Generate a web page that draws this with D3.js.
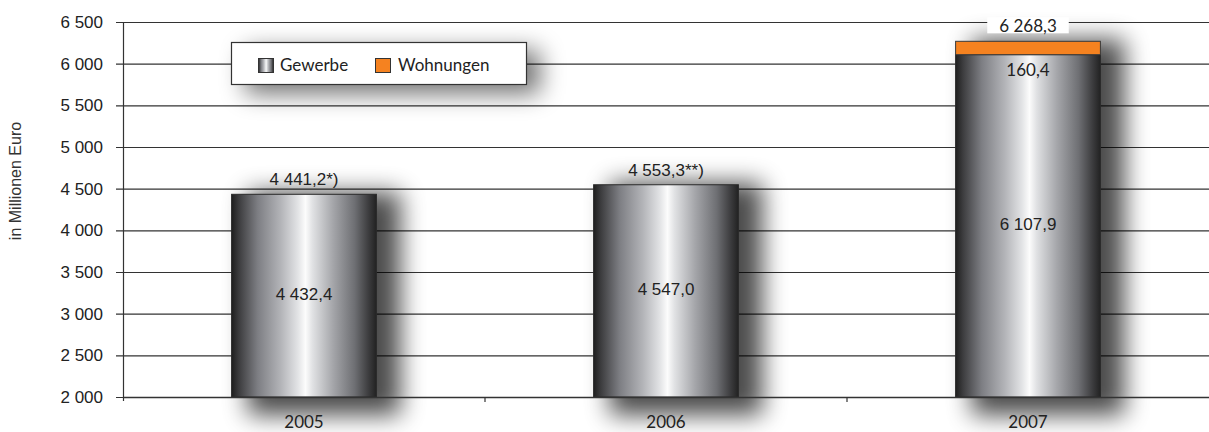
<!DOCTYPE html>
<html>
<head>
<meta charset="utf-8">
<script src="https://cdn.jsdelivr.net/npm/d3@7"></script>
<style>
  body { margin: 0; background: #fff; }
  svg { display: block; }
</style>
</head>
<body>
<svg id="chart" width="1209" height="432"></svg>
<script>
// values
var years = ["2005", "2006", "2007"]
var gewerbe = [4432.4, 4547.0, 6107.9]
var wohnungen = [0, 0, 160.4]
var totals = [4441.2, 4553.3, 6268.3]
var footnotes = ["*)", "**)", ""]
var yTicks = [2000, 2500, 3000, 3500, 4000, 4500, 5000, 5500, 6000, 6500]
var seriesNames = ["Gewerbe", "Wohnungen"]

var de = d3.formatLocale({decimal: ",", thousands: " ", grouping: [3], currency: ["", " €"]})
var fmtTick = de.format(",d")
var fmtVal = de.format(",.1f")

var plotLeft = 123, plotRight = 1209, plotTop = 22, plotBottom = 397

var svg = d3.select("#chart")
var defs = svg.append("defs")

var grad = defs.append("linearGradient").attr("id", "metal").attr("x1", "0").attr("x2", "1").attr("y1", "0").attr("y2", "0")
var stops = [[0, "#1e1e1e"], [0.05, "#3c3c3e"], [0.18, "#7d7e83"], [0.34, "#b3b4b8"], [0.46, "#e3e4e6"], [0.51, "#fcfcfc"], [0.56, "#e0e1e3"], [0.7, "#a5a6aa"], [0.85, "#6e6f73"], [0.95, "#3a3a3c"], [1, "#222"]]
grad.selectAll("stop").data(stops).enter().append("stop")
  .attr("offset", function(d) { return d[0] }).attr("stop-color", function(d) { return d[1] })

var blur = defs.append("filter").attr("id", "shadow").attr("x", "-60%").attr("y", "-60%").attr("width", "220%").attr("height", "220%")
blur.append("feGaussianBlur").attr("stdDeviation", 12)

var x = d3.scaleBand().domain(years).range([plotLeft, plotRight]).paddingInner(0.6).paddingOuter(0.3)
var y = d3.scaleLinear().domain([2000, 6500]).range([plotBottom, plotTop])

// gridlines
svg.append("g").selectAll("line").data(yTicks).enter().append("line")
  .attr("x1", plotLeft - 7).attr("x2", plotRight).attr("y1", function(d) { return y(d) + 0.5 }).attr("y2", function(d) { return y(d) + 0.5 })
  .attr("stroke", "#333").attr("stroke-width", 1.1)

// y tick labels
svg.append("g").selectAll("text").data(yTicks).enter().append("text")
  .text(function(d) { return fmtTick(d) })
  .attr("x", plotLeft - 20).attr("y", function(d) { return y(d) + 6 })
  .attr("text-anchor", "end").attr("font-family", "Liberation Sans, Arial, sans-serif").attr("font-size", 17).attr("fill", "#222")

svg.append("text").text("in Millionen Euro")
  .attr("transform", "translate(21,181) rotate(-90)")
  .attr("text-anchor", "middle").attr("font-family", "Liberation Sans, Arial, sans-serif").attr("font-size", 16).attr("fill", "#333")

// bar shadows
svg.append("g").selectAll("rect").data(years).enter().append("rect")
  .attr("x", function(d) { return x(d) + 16 }).attr("width", x.bandwidth() + 8)
  .attr("y", function(d, i) { return y(gewerbe[i] + wohnungen[i]) - 2 })
  .attr("height", function(d, i) { return plotBottom - y(gewerbe[i] + wohnungen[i]) + 20 })
  .attr("fill", "#000").attr("opacity", 0.7).attr("filter", "url(#shadow)")

// Gewerbe bars
svg.append("g").selectAll("rect").data(years).enter().append("rect")
  .attr("x", function(d) { return x(d) }).attr("width", x.bandwidth())
  .attr("y", function(d, i) { return y(gewerbe[i]) })
  .attr("height", function(d, i) { return plotBottom - y(gewerbe[i]) })
  .attr("fill", "url(#metal)").attr("stroke", "#2a2a2a").attr("stroke-width", 1)

// Wohnungen bars
svg.append("g").selectAll("rect").data(years.filter(function(d, i) { return wohnungen[i] > 0 })).enter().append("rect")
  .attr("x", function(d) { return x(d) }).attr("width", x.bandwidth())
  .attr("y", function(d) { var i = years.indexOf(d); return y(gewerbe[i] + wohnungen[i]) })
  .attr("height", function(d) { var i = years.indexOf(d); return y(gewerbe[i]) - y(gewerbe[i] + wohnungen[i]) })
  .attr("fill", "#f58220").attr("stroke", "#3a3a3a").attr("stroke-width", 1)

// axes lines
svg.append("line").attr("x1", plotLeft + 0.5).attr("x2", plotLeft + 0.5).attr("y1", plotTop).attr("y2", plotBottom + 4).attr("stroke", "#333").attr("stroke-width", 1.2)
svg.append("line").attr("x1", plotLeft).attr("x2", plotRight).attr("y1", plotBottom + 0.5).attr("y2", plotBottom + 0.5).attr("stroke", "#333").attr("stroke-width", 1.3)
svg.append("g").selectAll("line").data(years.slice(1)).enter().append("line")
  .attr("x1", function(d) { return x(d) - (x.step() - x.bandwidth()) / 2 }).attr("x2", function(d) { return x(d) - (x.step() - x.bandwidth()) / 2 })
  .attr("y1", plotBottom).attr("y2", plotBottom + 5).attr("stroke", "#333").attr("stroke-width", 1.2)

// category labels
svg.append("g").selectAll("text").data(years).enter().append("text")
  .text(function(d) { return d })
  .attr("x", function(d) { return x(d) + x.bandwidth() / 2 }).attr("y", 428)
  .attr("text-anchor", "middle").attr("font-family", "Lato, sans-serif").attr("font-size", 17).attr("fill", "#222")

// in-bar Gewerbe labels
svg.append("g").selectAll("text").data(years).enter().append("text")
  .text(function(d, i) { return fmtVal(gewerbe[i]) })
  .attr("x", function(d) { return x(d) + x.bandwidth() / 2 })
  .attr("y", function(d, i) { return (y(gewerbe[i]) + plotBottom) / 2 + 4 })
  .attr("text-anchor", "middle").attr("font-family", "Liberation Sans, Arial, sans-serif").attr("font-size", 17).attr("fill", "#222")

// Wohnungen label just below the orange segment
years.forEach(function(d, i) {
  if (wohnungen[i] > 0) {
    svg.append("text").text(fmtVal(wohnungen[i]))
      .attr("x", x(d) + x.bandwidth() / 2).attr("y", y(gewerbe[i]) + 21)
      .attr("text-anchor", "middle").attr("font-family", "Lato, sans-serif").attr("font-size", 17).attr("fill", "#222")
  }
})

// total labels, white knock-out only where a gridline runs through the text
var tot = svg.append("g").selectAll("g").data(years).enter().append("g")
tot.each(function(d, i) {
  var g = d3.select(this)
  var cx = x(d) + x.bandwidth() / 2
  var yy = y(gewerbe[i] + wohnungen[i]) - 9
  var t = g.append("text")
    .attr("x", cx).attr("y", yy)
    .attr("text-anchor", "middle").attr("font-size", 17).attr("fill", "#222")
    .attr("font-family", footnotes[i] ? "Liberation Sans, Arial, sans-serif" : "Lato, sans-serif")
    .text(fmtVal(totals[i]) + footnotes[i])
  var bb = t.node().getBBox()
  var crosses = yTicks.some(function(v) { return y(v) > bb.y && y(v) < yy })
  if (crosses) {
    g.insert("rect", "text").attr("x", bb.x - 12).attr("y", bb.y + 2).attr("width", bb.width + 24).attr("height", yy + 1 - bb.y - 2).attr("fill", "#fff")
  }
})

// legend
var lg = svg.append("g")
lg.append("rect").attr("x", 245).attr("y", 50).attr("width", 295).attr("height", 44).attr("fill", "#000").attr("opacity", 0.55).attr("filter", "url(#shadow)")
lg.append("rect").attr("x", 231.5).attr("y", 42.5).attr("width", 295).attr("height", 42).attr("fill", "#fff").attr("stroke", "#333").attr("stroke-width", 1.2)
var swatches = [{fill: "url(#metal)", sx: 258, tx: 280}, {fill: "#f58220", sx: 375, tx: 398}]
lg.selectAll("g.item").data(seriesNames).enter().append("g").attr("class", "item").each(function(d, i) {
  var g = d3.select(this)
  g.append("rect").attr("x", swatches[i].sx + 0.5).attr("y", 58.5).attr("width", 15).attr("height", 14)
    .attr("fill", swatches[i].fill).attr("stroke", "#333").attr("stroke-width", 1)
  g.append("text").text(d).attr("x", swatches[i].tx).attr("y", 71)
    .attr("font-family", "Lato, sans-serif").attr("font-size", 17).attr("fill", "#222")
})
</script>
</body>
</html>
